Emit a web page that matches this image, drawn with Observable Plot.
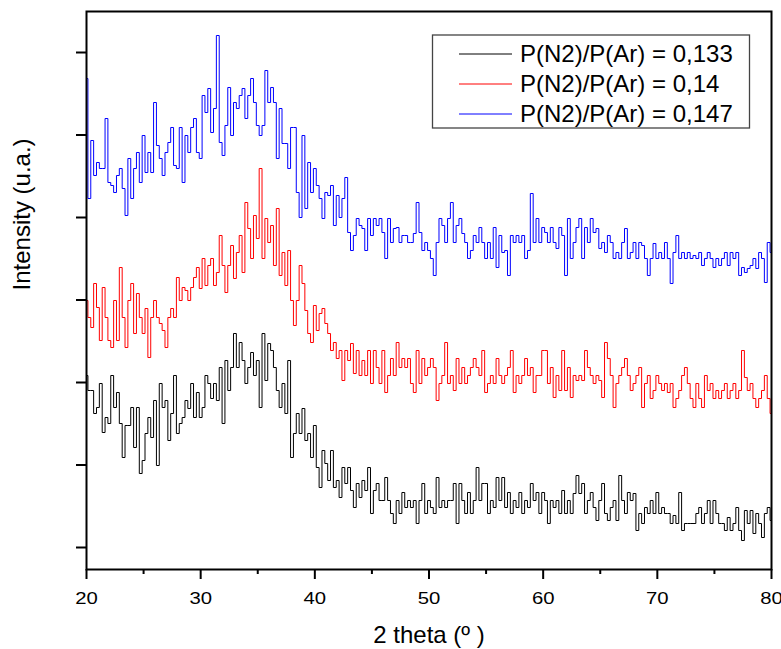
<!DOCTYPE html>
<html>
<head>
<meta charset="utf-8">
<script src="https://cdn.jsdelivr.net/npm/d3@7"></script>
<script src="https://cdn.jsdelivr.net/npm/@observablehq/plot@0.6"></script>
<style>
  html, body { margin: 0; padding: 0; background: #fff; }
  #wrap { position: relative; width: 781px; height: 649px; overflow: hidden; }
  #legend { position: absolute; left: 0; top: 0; pointer-events: none; }
</style>
</head>
<body>
<div id="wrap"></div>
<script>
// 2 theta grid: 20.00, 20.25, ... 80.00 (241 samples)
const thetaStart = 20;
const thetaStep = 0.25;

// Intensity (a.u., offset stacked)
const i0133 = [
  172,157,157,134,140,164,115,130,124,172,140,155,124,90,122,122,140,100,140,74,
  87,114,130,110,147,82,164,140,147,107,134,172,114,124,130,147,139,164,130,155,
  130,140,172,164,149,164,147,180,124,187,157,180,214,180,205,187,164,180,195,172,
  187,140,214,167,204,197,180,157,140,164,134,187,90,114,134,114,139,107,114,90,
  122,80,60,97,84,67,97,60,67,50,80,64,80,57,40,64,50,67,57,80,
  34,57,64,47,47,70,47,34,24,47,34,55,40,47,40,47,24,47,64,34,
  47,40,34,70,40,47,40,47,47,64,24,64,47,34,55,34,47,80,47,64,
  64,34,47,40,70,47,70,40,55,34,47,40,55,34,47,40,64,47,55,34,
  55,47,24,47,40,47,34,57,34,47,34,54,72,54,64,34,47,55,40,27,
  47,64,34,27,40,47,27,72,47,34,55,47,54,17,34,24,40,34,47,34,
  55,34,40,34,34,24,32,24,55,17,24,24,24,24,34,40,24,34,47,24,
  47,34,24,24,17,30,17,24,40,17,7,37,24,37,14,34,24,10,34,40,
  27
];
const i014 = [
  247,230,220,264,240,207,260,230,207,200,247,207,280,230,200,247,264,214,254,230,
  214,239,190,230,247,230,224,217,200,230,239,230,270,247,260,257,247,260,270,280,
  259,289,262,282,289,262,275,312,282,255,282,302,269,295,312,275,345,319,289,332,
  309,379,289,329,305,322,282,339,272,295,262,297,247,222,247,282,264,237,214,205,
  242,217,234,239,224,214,197,205,189,197,167,197,187,204,174,197,172,187,172,197,
  164,197,180,164,197,155,172,189,172,205,180,189,180,189,164,155,197,164,189,172,
  180,189,180,147,164,172,205,164,172,157,189,164,180,164,172,180,189,180,172,197,
  155,164,172,164,189,172,164,172,180,197,155,172,164,172,189,172,180,155,172,172,
  197,197,164,180,150,172,157,197,157,180,150,172,167,172,167,197,180,172,164,172,
  167,150,205,189,172,140,164,172,180,189,172,157,164,172,180,140,164,172,149,157,
  172,164,157,164,155,164,140,149,157,172,180,164,149,140,164,149,140,172,157,164,
  149,157,149,157,164,149,157,164,149,157,197,170,157,164,149,140,149,157,172,149,
  134
];
const i0147 = [
  469,349,407,372,385,379,379,429,365,362,355,372,379,359,332,389,349,379,395,365,
  412,375,395,375,445,402,389,372,395,405,420,382,379,420,365,412,395,420,429,395,
  389,452,435,459,415,439,512,405,392,422,460,412,445,439,452,459,429,452,469,445,
  422,412,422,477,445,460,445,389,439,404,404,379,420,420,355,330,412,339,385,355,
  379,362,349,329,355,352,362,322,352,330,349,370,315,297,312,329,322,319,297,329,
  312,329,322,329,315,289,329,305,319,320,305,312,312,305,305,314,345,315,297,305,
  297,289,272,305,329,322,305,329,345,305,322,329,314,305,289,297,312,305,320,305,
  289,305,289,320,280,312,295,297,272,312,305,312,305,312,289,297,354,305,329,305,
  320,315,305,320,305,299,320,312,272,329,289,305,320,329,289,320,305,329,315,319,
  299,305,295,312,305,289,295,289,305,319,289,295,305,289,305,302,289,272,289,304,
  289,295,289,305,289,264,295,312,289,295,289,295,289,292,289,295,282,289,295,289,
  280,289,282,289,295,282,295,289,295,272,280,275,279,282,289,279,295,289,265,305,
  295
];

const seriesNames = ["P(N2)/P(Ar) = 0,133", "P(N2)/P(Ar) = 0,14", "P(N2)/P(Ar) = 0,147"];
const seriesColors = ["#000000", "#ff0000", "#0000ff"];
const seriesValues = [i0133, i014, i0147];

const xMajorTicks = [20, 30, 40, 50, 60, 70, 80];
const xMinorTicks = [25, 35, 45, 55, 65, 75];
const yTicks = [0, 82.5, 165, 247.5, 330, 412.5, 495];
const xLabel = "2 theta (º )";
const yLabel = "Intensity (u.a.)";

const rows = [];
seriesValues.forEach((vals, s) => {
  vals.forEach((v, i) => rows.push({theta: thetaStart + i * thetaStep, intensity: v, series: seriesNames[s]}));
});

const font = "'Liberation Sans', Arial, Helvetica, sans-serif";

const chart = Plot.plot({
  width: 781,
  height: 649,
  marginLeft: 86,
  marginRight: 10,
  marginTop: 11,
  marginBottom: 80,
  style: {fontFamily: font, fontSize: "16px", color: "#000", background: "#fff", overflow: "visible"},
  x: {domain: [20, 80], label: null},
  y: {domain: [-22, 536], label: null},
  color: {domain: seriesNames, range: seriesColors},
  marks: [
    Plot.line(rows, {x: "theta", y: "intensity", z: "series", stroke: "series", curve: "step", strokeWidth: 1}),
    Plot.frame({stroke: "#000", strokeWidth: 2}),
    Plot.axisX(xMajorTicks, {tickSize: 10, tickPadding: 13, strokeWidth: 2, fontSize: 16, label: null}),
    Plot.axisX(xMinorTicks, {tickSize: 5, strokeWidth: 2, tickFormat: () => "", label: null}),
    Plot.axisY(yTicks, {tickSize: 10, strokeWidth: 2, tickFormat: () => "", label: null}),
    Plot.text([xLabel], {frameAnchor: "bottom", dy: 66, fontSize: 24, lineAnchor: "middle"}),
    Plot.text([yLabel], {frameAnchor: "left", dx: -64, rotate: -90, fontSize: 24, lineAnchor: "middle"})
  ]
});

const wrap = document.getElementById("wrap");
wrap.appendChild(chart);

// the reference's tick numerals are horizontally stretched
d3.select(chart).selectAll("g[aria-label='x-axis tick label'] text").each(function () {
  const t = this.getAttribute("transform") || "";
  this.setAttribute("transform", (t + " scale(1.27,1)").trim());
});

// Legend box (upper right, inside the frame)
const leg = d3.select(wrap).append("svg")
  .attr("id", "legend")
  .attr("width", 781).attr("height", 649)
  .style("font-family", font);
leg.append("rect")
  .attr("x", 432.5).attr("y", 35).attr("width", 317).attr("height", 93)
  .attr("fill", "#fff").attr("stroke", "#444").attr("stroke-width", 1.3);
seriesNames.forEach((name, i) => {
  const cy = 54 + i * 30;
  leg.append("line")
    .attr("x1", 459).attr("x2", 512).attr("y1", cy).attr("y2", cy)
    .attr("stroke", seriesColors[i]).attr("stroke-width", 1);
  leg.append("text")
    .attr("x", 520).attr("y", cy + 8)
    .attr("font-size", 24).attr("fill", "#000")
    .text(name);
});
</script>
</body>
</html>
